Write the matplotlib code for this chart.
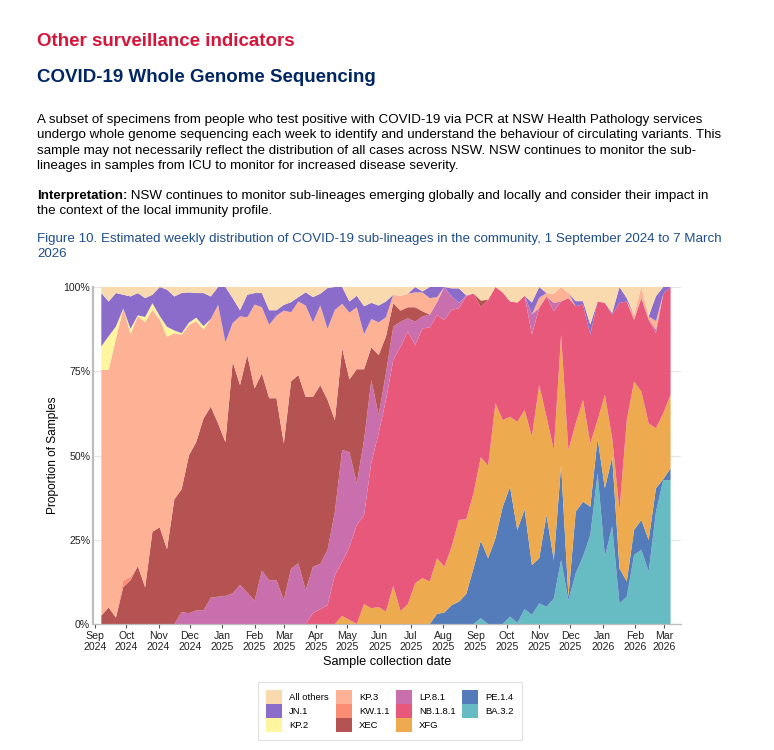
import numpy as np
import pandas as pd
import matplotlib
matplotlib.use("Agg")
import matplotlib.pyplot as plt
from matplotlib.patches import Patch

plt.rcParams['font.family'] = ['Liberation Sans', 'DejaVu Sans']

# weekly samples, 7 Sep 2024 .. 7 Mar 2026 (percent of samples)
weeks = pd.date_range("2024-09-07", periods=79, freq="7D")

ba_3_2 = [0]*52 + [1.7, 0, 0, 0, 2.2, 0.3, 4.4, 2.7, 6.1, 5.1, 7.6, 19, 7.1, 15, 20, 26.4, 44.7,
                   20, 28.9, 6.1, 8.1, 20.5, 22, 15.5, 33.3, 42.7, 42.7]
pe_1_4 = [0]*46 + [3, 3.4, 5.6, 6.6, 8.9, 16.5, 23, 19.5, 25.4, 34.8, 38.5, 27.6, 29.6, 14.8, 13.4,
                   27.2, 11.4, 28.2, 1, 18.3, 16.3, 8.4, 10.3, 20.3, 20.7, 10.4, 4.5, 7.4, 8.9, 9.4,
                   7, 0.3, 3.5]
xfg = [0]*33 + [2.4, 1.2, 0, 5.9, 4.7, 5, 3.7, 11.3, 3.8, 5.9, 12.1, 13.6, 12.6, 16.5, 13.6, 17.3,
                24.3, 22.2, 22.3, 24.8, 27.5, 40.1, 25.7, 20.8, 32.1, 29.5, 38.1, 51.4, 29.2, 32.6,
                38.6, 43.5, 26.2, 30.2, 18.8, 5.5, 27.7, 5.5, 17.3, 47.9, 44, 38.1, 34.6, 17.8, 19.5,
                21.8]
nb_1_8_1 = [0]*29 + [3.2, 4.4, 5.6, 14.5, 16.1, 21.7, 29.4, 26.4, 43.3, 51.6, 62.8, 67, 78.5, 80.9,
                     70.7, 74.1, 75.4, 72.2, 73.2, 70.3, 62.8, 66.1, 59.3, 44.5, 49.2, 34.5, 37.9,
                     34.2, 35.4, 33.9, 30.3, 22.9, 35.7, 41.2, 9.9, 45.1, 34.8, 28.3, 32.3, 35.2,
                     27.3, 36.7, 61.5, 35.2, 18.4, 27.7, 30.8, 28.3, 35.5, 32]
lp_8_1 = ([0]*11
          + [3.5, 3.2, 4, 4, 7.8, 8.1, 8.3, 9.1, 11.6, 9.3, 6.9, 15.8, 13, 13, 7.1, 16.4, 18,
             10, 13.8, 13.4, 16.4, 18.8, 33.1, 28.1, 12.3, 22.3, 24.4, 5.4, 7.9, 9.9, 7.4, 3.9,
             6.9, 3.6, 3.8, 3.8, 9.8, 4, 1.6, 0.3]
          + [0]*8 + [6, 0, 0, 2.5] + [0]*13 + [1, 0, 0])
xec = [2.5, 4.9, 1.9, 10.9, 13, 17.2, 10.9, 27.4, 28.7, 22.2, 37, 36.5, 46.8, 50, 57, 56.7, 51.4,
       45.7, 68.7, 59.3, 70.5, 63, 58.6, 54, 54, 46.5, 55.6, 55.9, 57.4, 50.4, 53.1, 44.5, 27.2,
       30.2, 21.6, 33.9, 21, 9.7, 17.8, 10.9, 7, 3.3, 3.3, 4.3, 1.5] + [0]*7 + [2] + [0]*26
kw_1_1 = [0, 0, 0, 2, 1] + [0]*74
kp_3 = [72.9, 70.5, 82.7, 80.7, 72.1, 74.1, 78.7, 65.8, 61.7, 63, 49.3, 45.8, 38.7, 35.9, 26.4, 26,
        35.2, 29.6, 11.5, 20.4, 11.2, 24.9, 19.6, 21.8, 24.5, 39.4, 20.5, 21.8, 27.1, 22.1, 23.6,
        21.1, 32.7, 13.2, 19.8, 18.4, 10.4, 8.4, 9.7, 5.7, 2.5, 4.4, 4, 4.4, 5.6, 4.9, 1.5] \
       + [0]*13 + [3, 1, 2.7, 4.3, 1.5, 0, 0, 0, 0, 0, 0, 0, 0, 1.5, 3.3, 1, 2.5, 0, 0]
kp_2 = [7, 10, 3.7, 0, 1.5, 0.3, 1.5, 2, 1, 3, 0.8, 0.5, 0.7, 1, 1] + [0]*64
jn_1 = [15.8, 10.3, 9.9, 4.1, 9.6, 6.6, 5.6, 2.5, 8.6, 11, 10.1, 11.9, 9, 7.3, 9.8, 6.7, 5.3, 16.4,
        7.4, 1.8, 6.7, 3.4, 4.2, 4.3, 1.6, 1.7, 3, 1.3, 3.9, 7.5, 3.5, 12.1, 6.8, 5, 3.3, 3.4, 8.3,
        4.8, 5, 4.7, 0, 0, 0, 1.6, 0.3, 3.3, 3, 0, 2.4, 4.3, 0, 0, 0, 0, 0, 0, 0, 0, 0, 3.5, 3.2,
        0, 0, 0, 0, 1.5, 1, 3, 0, 0, 0.5, 4.7, 1, 0, 0, 0, 7.4, 2, 0]
all_others = [1.8, 4.3, 1.8, 2.3, 2.8, 1.8, 3.3, 2.3, 0, 0.8, 2.8, 1.8, 1.6, 1.8, 1.8, 2.8, 0, 0,
              3.3, 6.9, 2.3, 1.8, 1.8, 6.9, 6.9, 5.3, 4.5, 3, 1.6, 3, 2, 0.3, 0, 0, 4.3, 2.6, 5.7,
              4.7, 5.5, 4.3, 2.3, 2.6, 2, 0, 1.3, 0, 0, 0, 0.4, 0.4, 2.5, 1.9, 4, 3.8, 0, 1.6, 4.3,
              4.6, 2.6, 4.6, 0, 1.8, 2, 0, 1.8, 4.2, 4.2, 11.1, 4.3, 4.7, 7.7, 0, 3.3, 8.2, 0, 8.7,
              2.7, 0, 0]

# bottom to top
labels = ["BA.3.2", "PE.1.4", "XFG", "NB.1.8.1", "LP.8.1", "XEC", "KW.1.1", "KP.3", "KP.2",
          "JN.1", "All others"]
series = [ba_3_2, pe_1_4, xfg, nb_1_8_1, lp_8_1, xec, kw_1_1, kp_3, kp_2, jn_1, all_others]
colors = ["#66bcc2", "#557cba", "#eeaa4e", "#e8587b", "#ca6fae", "#b55353", "#fb8d75",
          "#fdb195", "#fff59e", "#8b6ccb", "#f9daaf"]

df = pd.DataFrame(dict(zip(labels, series)), index=weeks)
df = df.div(df.sum(axis=1), axis=0) * 100

fig = plt.figure(figsize=(7.74, 7.5), dpi=100)

navy = "#002664"
fig.text(37/774, 1-42/750, "Other surveillance indicators", color="#d7153a",
         fontsize=13.5, fontweight="bold", va="center")
fig.text(37/774, 1-78/750, "COVID-19 Whole Genome Sequencing", color=navy,
         fontsize=13.5, fontweight="bold", va="center")

body = ["A subset of specimens from people who test positive with COVID-19 via PCR at NSW Health Pathology services",
        "undergo whole genome sequencing each week to identify and understand the behaviour of circulating variants. This",
        "sample may not necessarily reflect the distribution of all cases across NSW. NSW continues to monitor the sub-",
        "lineages in samples from ICU to monitor for increased disease severity."]
for k, line in enumerate(body):
    fig.text(37/774, 1-(120 + 15.3*k)/750, line, fontsize=9.6, va="center")

t1 = fig.text(37/774, 1-196/750, "Interpretation:", fontsize=9.6, fontweight="bold", va="center")
fig.canvas.draw()
bb = t1.get_window_extent()
fig.text(bb.x1/774, 1-196/750, " NSW continues to monitor sub-lineages emerging globally and locally and consider their impact in",
         fontsize=9.6, va="center")
fig.text(37/774, 1-211/750, "the context of the local immunity profile.", fontsize=9.6, va="center")

cap = "#1f4e8c"
fig.text(37/774, 1-239/750, "Figure 10. Estimated weekly distribution of COVID-19 sub-lineages in the community, 1 September 2024 to 7 March",
         fontsize=9.6, color=cap, va="center")
fig.text(37/774, 1-254/750, "2026", fontsize=9.6, color=cap, va="center")

ax = fig.add_axes([93/774, 1-624/750, 588/774, 337/750])
ax.stackplot(df.index, [df[c].values for c in labels], colors=colors, linewidth=0)

ax.set_ylim(0, 100)
ax.set_xlim(pd.Timestamp("2024-08-30"), pd.Timestamp("2026-03-17"))
ax.set_yticks([0, 25, 50, 75, 100])
ax.set_yticklabels(["0%", "25%", "50%", "75%", "100%"])
months = pd.date_range("2024-09-01", "2026-03-01", freq="MS")
ax.set_xticks(months)
ax.set_xticklabels([f"{d:%b}\n{d:%Y}" for d in months], linespacing=1.15)
ax.tick_params(axis="both", labelsize=7.6, colors="#333333", length=3, width=0.8, pad=2)
ax.tick_params(axis="x", colors="#555555", labelcolor="#222222")
ax.tick_params(axis="y", length=0, labelcolor="#222222")
ax.grid(axis="y", color="#e6e6e6", linewidth=0.9)
ax.set_axisbelow(True)
for s in ["top", "right"]:
    ax.spines[s].set_visible(False)
ax.spines["left"].set_color("#bdbdbd")
ax.spines["left"].set_linewidth(1.6)
ax.spines["bottom"].set_color("#bdbdbd")
ax.spines["bottom"].set_linewidth(0.9)
ax.set_ylabel("Proportion of Samples", fontsize=8.6, labelpad=3)
ax.set_xlabel("Sample collection date", fontsize=9.2, labelpad=3)

order = ["All others", "JN.1", "KP.2", "KP.3", "KW.1.1", "XEC", "LP.8.1", "NB.1.8.1", "XFG",
         "PE.1.4", "BA.3.2"]
handles = [Patch(facecolor=colors[labels.index(n)], edgecolor="none", label=n) for n in order]
leg = fig.legend(handles=handles, ncol=4, loc="center", bbox_to_anchor=(390/774, 1-711/750),
                 fontsize=6.8, frameon=True, fancybox=False, edgecolor="#d9d9d9",
                 handlelength=1.7, handleheight=1.85, labelspacing=0, columnspacing=0.7,
                 handletextpad=0.75, borderpad=0.85)
leg.get_frame().set_linewidth(0.8)

fig.savefig("out.png", dpi=100)
